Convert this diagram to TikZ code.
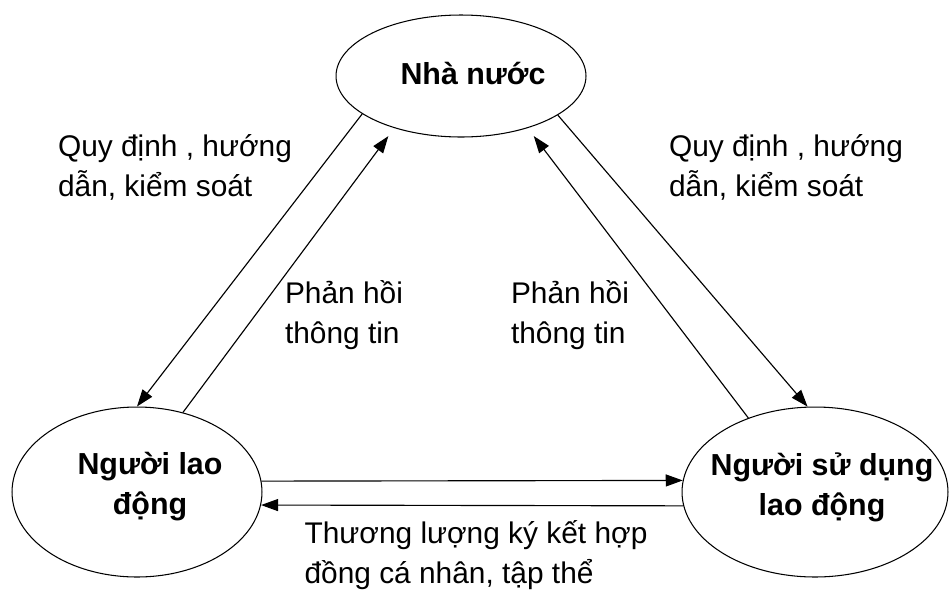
\documentclass[tikz,border=0pt]{standalone}
\usepackage{fontspec}
\setmainfont{Liberation Sans}
\usetikzlibrary{shapes.geometric,arrows.meta}

\begin{document}
\begin{tikzpicture}[x=0.02cm,y=-0.02cm,
    oval/.style={draw,ellipse,line width=0.6pt,inner sep=0pt},
    bold/.style={align=center,font=\fontsize{17.3}{22.7}\selectfont\bfseries},
    lbl/.style={align=left,font=\fontsize{17}{22.7}\selectfont},
    arr/.style={line width=0.65pt,-{Triangle[length=0.34cm,width=0.24cm]}}]
    \useasboundingbox (0,0) rectangle (949,589);

    \node[oval,minimum width=5cm,minimum height=2.44cm] (nn) at (461,76) {};
    \node[oval,minimum width=5cm,minimum height=3.4cm] (nld) at (137,492) {};
    \node[oval,minimum width=5.32cm,minimum height=3.4cm] (nsd) at (815,492) {};

    \node[bold] (nntext) at (473,73) {Nhà nước};
    \node[bold] (nldtext) at (150,487) {Người lao\\động};
    \node[bold] (nsdtext) at (822,487) {Người sử dụng\\lao động};

    \draw[arr] (nn.201) -- (nld.90);
    \draw[arr,shorten >=0.2cm] (nld.60) -- (nn.218);
    \draw[arr] (nn.338.5) -- (nsd.95);
    \draw[arr,shorten >=0.2cm] (nsd.132) -- (nn.322);
    \draw[arr] (nld.5) -- (nsd.175);
    \draw[arr] (nsd.186) -- (nld.354);

    \node[lbl] (qleft) at (175,167) {Quy định , hướng\\dẫn, kiểm soát};
    \node[lbl] (qright) at (786,167) {Quy định , hướng\\dẫn, kiểm soát};
    \node[lbl] (pleft) at (344,315) {Phản hồi\\thông tin};
    \node[lbl] (pright) at (570,315) {Phản hồi\\thông tin};
    \node[lbl] (thuong) at (476,555) {Thương lượng ký kết hợp\\đồng cá nhân, tập thể};
\end{tikzpicture}
\end{document}
